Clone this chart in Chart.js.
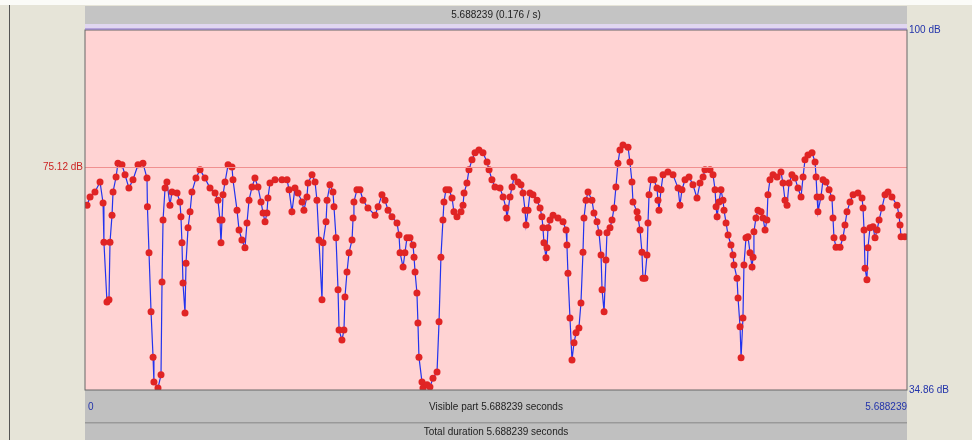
<!DOCTYPE html>
<html>
<head>
<meta charset="utf-8">
<script src="https://cdn.jsdelivr.net/npm/chart.js@4"></script>
<style>
  html, body { margin: 0; padding: 0; background: #e6e4d8; }
  #wrap { position: relative; width: 972px; height: 440px; }
</style>
</head>
<body>
<div id="wrap"><canvas id="intensity" width="972" height="440"></canvas></div>
<script>
// Intensity contour (time in seconds, intensity in dB)
const times = [0.014,0.035,0.069,0.104,0.125,0.131,0.152,0.166,0.173,0.187,0.194,0.215,0.228,0.256,0.277,0.304,0.332,0.367,0.401,0.429,0.432,0.443,0.457,0.471,0.477,0.505,0.526,0.533,0.540,0.554,0.567,0.588,0.602,0.637,0.657,0.664,0.671,0.678,0.692,0.699,0.713,0.727,0.740,0.768,0.796,0.830,0.865,0.900,0.920,0.934,0.941,0.948,0.955,0.969,0.990,1.017,1.024,1.052,1.066,1.086,1.107,1.121,1.135,1.156,1.176,1.197,1.218,1.232,1.246,1.259,1.266,1.280,1.315,1.363,1.398,1.412,1.432,1.453,1.474,1.502,1.515,1.536,1.543,1.571,1.592,1.605,1.619,1.640,1.647,1.668,1.675,1.695,1.716,1.723,1.737,1.751,1.758,1.778,1.792,1.799,1.813,1.827,1.848,1.855,1.861,1.882,1.903,1.924,1.958,2.007,2.028,2.055,2.076,2.097,2.124,2.159,2.173,2.180,2.201,2.214,2.228,2.249,2.270,2.277,2.284,2.297,2.304,2.311,2.332,2.339,2.367,2.387,2.408,2.436,2.450,2.463,2.477,2.484,2.498,2.519,2.540,2.553,2.574,2.602,2.616,2.623,2.643,2.657,2.678,2.699,2.726,2.754,2.782,2.796,2.816,2.837,2.872,2.893,2.913,2.920,2.941,2.955,2.969,2.996,3.017,3.031,3.045,3.052,3.066,3.079,3.100,3.128,3.149,3.162,3.169,3.176,3.190,3.197,3.204,3.218,3.239,3.273,3.308,3.329,3.335,3.342,3.356,3.370,3.384,3.398,3.418,3.432,3.446,3.453,3.467,3.481,3.508,3.522,3.543,3.557,3.571,3.578,3.592,3.605,3.612,3.633,3.647,3.661,3.674,3.688,3.702,3.723,3.758,3.771,3.785,3.792,3.820,3.827,3.841,3.854,3.861,3.875,3.889,3.896,3.903,3.917,3.937,3.958,3.965,3.972,3.986,4.000,4.034,4.069,4.104,4.117,4.131,4.152,4.180,4.207,4.235,4.256,4.277,4.290,4.325,4.346,4.360,4.367,4.374,4.387,4.401,4.415,4.422,4.436,4.450,4.470,4.484,4.491,4.512,4.519,4.533,4.540,4.553,4.560,4.574,4.588,4.602,4.616,4.623,4.629,4.643,4.657,4.678,4.692,4.706,4.719,4.726,4.740,4.761,4.789,4.816,4.830,4.844,4.858,4.872,4.892,4.913,4.934,4.955,4.969,4.982,5.003,5.031,5.052,5.059,5.066,5.072,5.093,5.107,5.128,5.149,5.169,5.176,5.183,5.197,5.225,5.245,5.259,5.273,5.294,5.315,5.349,5.377,5.384,5.391,5.398,5.411,5.418,5.432,5.453,5.467,5.481,5.495,5.515,5.536,5.557,5.584,5.619,5.633,5.640,5.647,5.674];
const intensityDb = [68.3,69.8,70.7,72.5,68.7,61.6,50.8,51.2,61.6,66.5,70.7,73.4,75.9,75.6,73.8,71.4,72.9,75.6,75.9,73.2,68.0,59.7,49.0,40.8,36.3,35.2,37.6,54.4,65.6,71.4,72.5,68.3,70.7,70.5,68.9,66.2,61.5,54.2,48.8,57.8,64.2,67.1,70.7,73.2,74.7,73.2,71.4,70.5,69.2,65.6,61.5,65.6,70.2,72.5,75.6,75.2,72.9,67.4,63.8,62.0,60.6,65.1,69.2,71.6,73.2,71.6,68.9,66.9,65.3,66.9,69.6,72.3,72.9,72.9,72.9,71.1,67.1,71.4,70.5,68.9,67.4,69.8,72.3,73.8,72.5,69.2,62.0,51.2,61.5,65.3,69.2,72.0,70.7,68.0,62.4,53.0,45.7,43.9,45.7,51.7,56.2,59.7,62.0,66.0,68.9,71.1,71.1,69.2,67.8,66.5,68.0,70.2,69.2,67.4,66.2,65.1,62.9,59.7,57.1,59.7,62.4,62.4,61.1,58.9,56.2,52.4,47.0,40.8,36.3,35.2,35.8,35.4,37.0,38.1,47.2,58.9,65.6,68.9,71.1,71.1,69.6,67.1,66.2,67.1,68.3,70.5,72.3,74.7,76.5,77.8,78.3,77.8,76.1,74.7,72.9,71.6,71.4,69.8,67.8,66.0,69.8,71.6,73.4,72.5,72.0,70.5,67.4,64.7,67.4,70.5,70.2,69.2,67.8,66.2,64.2,61.5,58.8,60.6,64.2,65.6,66.5,66.0,65.3,63.8,61.1,56.0,47.9,40.3,43.4,45.2,46.1,50.6,59.8,66.0,69.2,70.7,69.2,66.9,65.3,63.3,59.3,53.0,49.0,58.4,63.3,64.2,65.6,67.8,71.6,75.9,78.3,79.2,78.8,76.1,72.5,68.9,67.1,66.0,63.8,59.8,55.1,55.1,59.3,65.1,70.2,72.9,72.9,71.4,69.2,67.4,71.1,73.8,74.3,73.8,71.4,68.3,71.1,72.9,73.4,72.0,69.6,72.3,73.4,74.7,74.7,73.8,71.1,68.0,66.2,68.9,71.1,69.2,67.4,65.1,62.9,61.1,59.3,57.5,55.1,51.5,46.3,40.7,47.9,57.5,62.4,62.6,59.7,57.1,58.9,63.5,66.0,67.4,67.1,66.0,63.8,65.6,70.2,72.9,73.8,73.4,74.3,72.3,69.2,68.3,72.3,73.8,73.2,71.4,69.8,73.4,76.5,77.4,77.8,76.1,73.4,69.8,67.1,69.8,72.9,72.5,71.1,69.6,66.0,62.4,60.7,60.7,62.4,64.7,67.1,68.9,70.2,70.5,69.6,67.8,63.8,56.9,54.8,60.6,64.2,64.4,62.4,63.8,65.6,67.8,70.2,70.7,69.8,68.3,66.5,64.7,62.6,62.6];

const totalDuration = 5.688239;
const dbMin = 34.86, dbMax = 100, dbMean = 75.12;
const topLabel = '5.688239 (0.176 / s)';
const visibleLabel = 'Visible part 5.688239 seconds';
const totalLabel = 'Total duration 5.688239 seconds';

const editorFrame = {
  id: 'editorFrame',
  beforeDraw(chart) {
    const { ctx, chartArea: a } = chart;
    ctx.save();
    ctx.fillStyle = '#e6e4d8';
    ctx.fillRect(0, 0, chart.width, chart.height);
    ctx.fillStyle = '#fbfbf8';
    ctx.fillRect(0, 0, chart.width, 5);
    ctx.fillStyle = '#555';
    ctx.fillRect(9, 5, 1, chart.height - 5);
    // top bar
    ctx.fillStyle = '#c4c4c4';
    ctx.fillRect(a.left, 6, a.right - a.left, 18);
    ctx.fillStyle = '#e0d6f0';
    ctx.fillRect(a.left, 24, a.right - a.left, a.top - 24);
    // plot background
    ctx.fillStyle = '#ffd3d3';
    ctx.fillRect(a.left, a.top, a.right - a.left, a.bottom - a.top);
    // bottom bars
    ctx.fillStyle = '#c0c0c0';
    ctx.fillRect(a.left, a.bottom, a.right - a.left, chart.height - a.bottom);
    ctx.fillStyle = '#999';
    ctx.fillRect(a.left, 422, a.right - a.left, 1.5);
    ctx.restore();
  },
  afterDraw(chart) {
    const { ctx, chartArea: a, scales: { y } } = chart;
    ctx.save();
    ctx.strokeStyle = '#666';
    ctx.lineWidth = 1;
    ctx.strokeRect(a.left, a.top, a.right - a.left, a.bottom - a.top);
    ctx.strokeStyle = '#8a70c8';
    ctx.beginPath(); ctx.moveTo(a.left, y.getPixelForValue(dbMax) - 1); ctx.lineTo(a.right, y.getPixelForValue(dbMax) - 1); ctx.stroke();
    ctx.font = '10px "Liberation Sans", Arial, sans-serif';
    ctx.textBaseline = 'middle';
    ctx.fillStyle = '#222';
    ctx.textAlign = 'center';
    const mid = (a.left + a.right) / 2;
    ctx.fillText(topLabel, mid, 15);
    ctx.fillText(visibleLabel, mid, 407);
    ctx.fillText(totalLabel, mid, 432);
    ctx.fillStyle = '#2233aa';
    ctx.textAlign = 'left';
    ctx.fillText('0', a.left + 3, 407);
    ctx.fillText('100 dB', a.right + 2, 30);
    ctx.fillText(dbMin.toFixed(2) + ' dB', a.right + 2, a.bottom);
    ctx.textAlign = 'right';
    ctx.fillText(String(totalDuration), a.right, 407);
    ctx.fillStyle = '#cc2222';
    ctx.fillText(dbMean.toFixed(2) + ' dB', a.left - 2, y.getPixelForValue(dbMean));
    ctx.restore();
  }
};

new Chart(document.getElementById('intensity'), {
  type: 'line',
  data: {
    datasets: [
      {
        data: [{ x: 0, y: dbMean }, { x: totalDuration, y: dbMean }],
        borderColor: '#f09090',
        borderWidth: 1.2,
        pointRadius: 0
      },
      {
        data: times.map((t, i) => ({ x: t, y: intensityDb[i] })),
        borderColor: '#2233ee',
        borderWidth: 1.2,
        tension: 0,
        pointRadius: 3.5,
        pointBackgroundColor: '#e02424',
        pointBorderWidth: 0
      }
    ]
  },
  options: {
    responsive: false,
    animation: false,
    layout: { padding: { left: 85, right: 65, top: 30, bottom: 50 } },
    scales: {
      x: { type: 'linear', min: 0, max: totalDuration, display: false },
      y: { min: dbMin, max: dbMax, display: false }
    },
    plugins: { legend: { display: false }, tooltip: { enabled: false } }
  },
  plugins: [editorFrame]
});
</script>
</body>
</html>
